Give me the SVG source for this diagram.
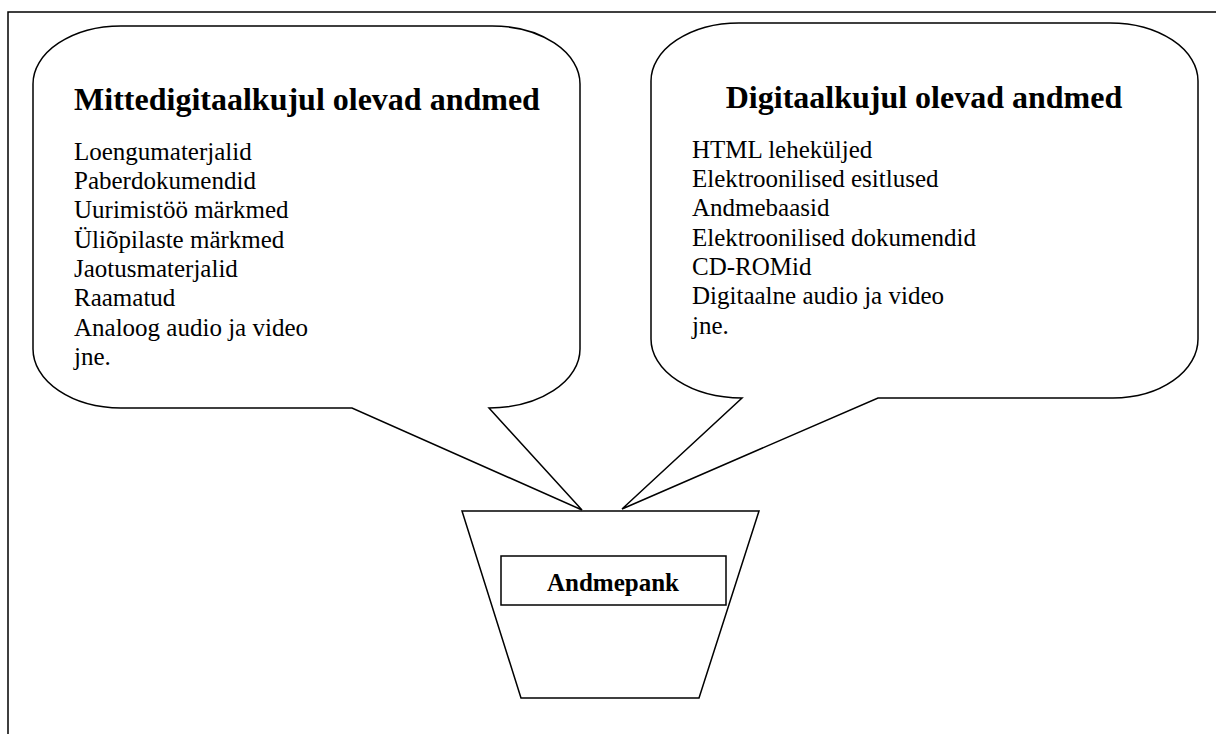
<svg xmlns="http://www.w3.org/2000/svg" width="1216" height="734" viewBox="0 0 1216 734">
<style>
.ln{fill:none;stroke:#000;stroke-width:1.5;stroke-linejoin:miter}
.sh{fill:#fff;stroke:#000;stroke-width:1.5;stroke-linejoin:miter}
.tt{font-family:"Liberation Serif","Times New Roman",serif;font-weight:bold;font-size:32px;fill:#000}
.bd{font-family:"Liberation Serif","Times New Roman",serif;font-size:25px;fill:#000}
.lb{font-family:"Liberation Serif","Times New Roman",serif;font-weight:bold;font-size:25px;fill:#000}
</style>
<rect x="0" y="0" width="1216" height="734" fill="#fff"/>
<g id="frame">
<path class="ln" d="M8,734 L8,12 L1216,12"/>
</g>
<g id="connectors"/>
<g id="bubble-left">
<path class="sh" d="M121,26 L492,26 A88,58 0 0 1 580,84 L580,349 A91,59 0 0 1 489,408 L582,510 L352,408 L121,408 A88,59 0 0 1 33,349 L33,84 A88,58 0 0 1 121,26 Z"/>
<text class="tt" x="307" y="110" text-anchor="middle">Mittedigitaalkujul olevad andmed</text>
<text class="bd" x="74" y="160">Loengumaterjalid</text>
<text class="bd" x="74" y="189">Paberdokumendid</text>
<text class="bd" x="74" y="218">Uurimistöö märkmed</text>
<text class="bd" x="74" y="248">Üliõpilaste märkmed</text>
<text class="bd" x="74" y="277">Jaotusmaterjalid</text>
<text class="bd" x="74" y="306">Raamatud</text>
<text class="bd" x="74" y="336">Analoog audio ja video</text>
<text class="bd" x="74" y="365">jne.</text>
</g>
<g id="bubble-right">
<path class="sh" d="M739,23 L1110,23 A88,58 0 0 1 1198,81 L1198,339 A85,59 0 0 1 1113,398 L878,398 L622,509 L742,398 A91,59 0 0 1 651,339 L651,81 A88,58 0 0 1 739,23 Z"/>
<text class="tt" x="924" y="108" text-anchor="middle">Digitaalkujul olevad andmed</text>
<text class="bd" x="692" y="158">HTML leheküljed</text>
<text class="bd" x="692" y="187">Elektroonilised esitlused</text>
<text class="bd" x="692" y="216">Andmebaasid</text>
<text class="bd" x="692" y="246">Elektroonilised dokumendid</text>
<text class="bd" x="692" y="275">CD-ROMid</text>
<text class="bd" x="692" y="304">Digitaalne audio ja video</text>
<text class="bd" x="692" y="334">jne.</text>
</g>
<g id="andmepank">
<path class="sh" d="M462,511 L759,511 L699,698 L521,698 Z"/>
<rect class="sh" x="501" y="556" width="225" height="49"/>
<text class="lb" x="613" y="591" text-anchor="middle">Andmepank</text>
</g>
</svg>
